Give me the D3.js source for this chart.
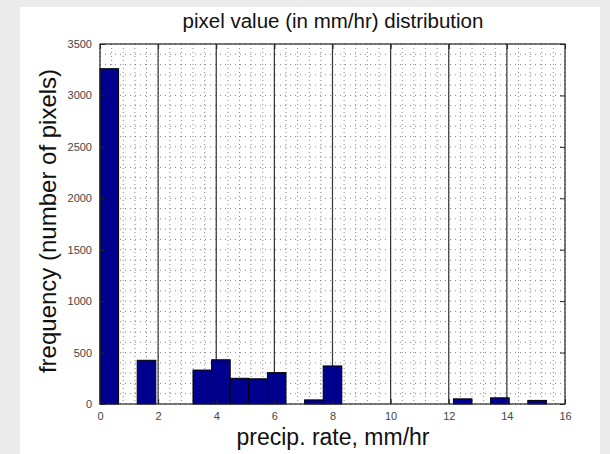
<html>
<head>
    <title>pixel value distribution</title>
    <script src="https://d3js.org/d3.v7.min.js" charset="utf-8"></script>
    <style>
        body {
            margin: 0;
            background: #ebebeb;
            font-family: "Liberation Sans", Arial, sans-serif;
        }
    </style>
</head>
<body>
    <script>
    // histogram: 25 bins of width 0.64 between 0 and 16
    var binWidth = 0.64;
    var counts = [3260, 0, 425, 0, 0, 330, 430, 250, 245, 305, 0, 40, 370,
                  0, 0, 0, 0, 0, 0, 50, 0, 60, 0, 35, 0];
    var xTicks = [0, 2, 4, 6, 8, 10, 12, 14, 16];
    var yTicks = [0, 500, 1000, 1500, 2000, 2500, 3000, 3500];

    var width = 610;
    var height = 454;
    var plot = { left: 100, right: 565, top: 44, bottom: 404 };

    var svg = d3.select("body")
        .append("svg")
        .attr("width", width)
        .attr("height", height);

    // white figure area
    svg.append("rect")
        .attr("x", 20).attr("y", 7)
        .attr("width", 580).attr("height", height - 7)
        .attr("fill", "#fff");

    var x = d3.scaleLinear().domain([0, 16]).range([plot.left, plot.right]);
    var y = d3.scaleLinear().domain([0, 3500]).range([plot.bottom, plot.top]);

    var g = svg.append("g");

    // minor dotted grid
    g.selectAll("line.xminor")
        .data(d3.range(0, 16.01, 0.4))
        .enter().append("line")
        .attr("x1", function(d) { return x(d); })
        .attr("x2", function(d) { return x(d); })
        .attr("y1", plot.top).attr("y2", plot.bottom)
        .attr("stroke", "#777")
        .attr("stroke-width", 0.9)
        .attr("stroke-dasharray", "1,3");

    g.selectAll("line.yminor")
        .data(d3.range(0, 3501, 100))
        .enter().append("line")
        .attr("x1", plot.left).attr("x2", plot.right)
        .attr("y1", function(d) { return y(d); })
        .attr("y2", function(d) { return y(d); })
        .attr("stroke", "#777")
        .attr("stroke-width", 0.9)
        .attr("stroke-dasharray", "1,4");

    // major vertical lines
    g.selectAll("line.xmajor")
        .data(xTicks.slice(1, -1))
        .enter().append("line")
        .attr("x1", function(d) { return x(d); })
        .attr("x2", function(d) { return x(d); })
        .attr("y1", plot.top).attr("y2", plot.bottom)
        .attr("stroke", "#333")
        .attr("stroke-width", 1.2);

    // bars
    counts.forEach(function(c, i) {
        if (c <= 0) return;
        g.append("rect")
            .attr("x", x(i * binWidth))
            .attr("width", x((i + 1) * binWidth) - x(i * binWidth))
            .attr("y", y(c))
            .attr("height", y(0) - y(c))
            .attr("fill", "#00008f")
            .attr("stroke", "#000")
            .attr("stroke-width", 1);
    });

    // frame
    svg.append("rect")
        .attr("x", plot.left).attr("y", plot.top)
        .attr("width", plot.right - plot.left)
        .attr("height", plot.bottom - plot.top)
        .attr("fill", "none")
        .attr("stroke", "#222")
        .attr("stroke-width", 1.2);

    // axes with inward ticks
    var fmt = d3.format("d");
    var xAxis = svg.append("g")
        .attr("transform", "translate(0," + plot.bottom + ")")
        .call(d3.axisBottom(x).tickValues(xTicks).tickSize(-5).tickPadding(8).tickFormat(fmt));
    var xAxisTop = svg.append("g")
        .attr("transform", "translate(0," + plot.top + ")")
        .call(d3.axisTop(x).tickValues(xTicks).tickSize(-5).tickFormat(""));
    var yAxis = svg.append("g")
        .attr("transform", "translate(" + plot.left + ",0)")
        .call(d3.axisLeft(y).tickValues(yTicks).tickSize(-5).tickPadding(8).tickFormat(fmt));
    var yAxisRight = svg.append("g")
        .attr("transform", "translate(" + plot.right + ",0)")
        .call(d3.axisRight(y).tickValues(yTicks).tickSize(-5).tickFormat(""));

    [xAxis, xAxisTop, yAxis, yAxisRight].forEach(function(a) {
        a.select(".domain").remove();
        a.selectAll("line").attr("stroke", "#222");
        a.selectAll("text")
            .attr("fill", "#444")
            .style("font-family", "'Liberation Sans', Arial, sans-serif")
            .style("font-size", "11px");
    });

    // titles
    svg.append("text")
        .attr("x", 333).attr("y", 28)
        .attr("text-anchor", "middle")
        .style("font-size", "20.5px")
        .attr("fill", "#111")
        .text("pixel value (in mm/hr) distribution");

    svg.append("text")
        .attr("x", 333).attr("y", 445)
        .attr("text-anchor", "middle")
        .style("font-size", "23px")
        .attr("fill", "#111")
        .text("precip. rate, mm/hr");

    svg.append("text")
        .attr("transform", "translate(56,221) rotate(-90)")
        .attr("text-anchor", "middle")
        .style("font-size", "24px")
        .attr("fill", "#111")
        .text("frequency (number of pixels)");
    </script>
</body>
</html>
